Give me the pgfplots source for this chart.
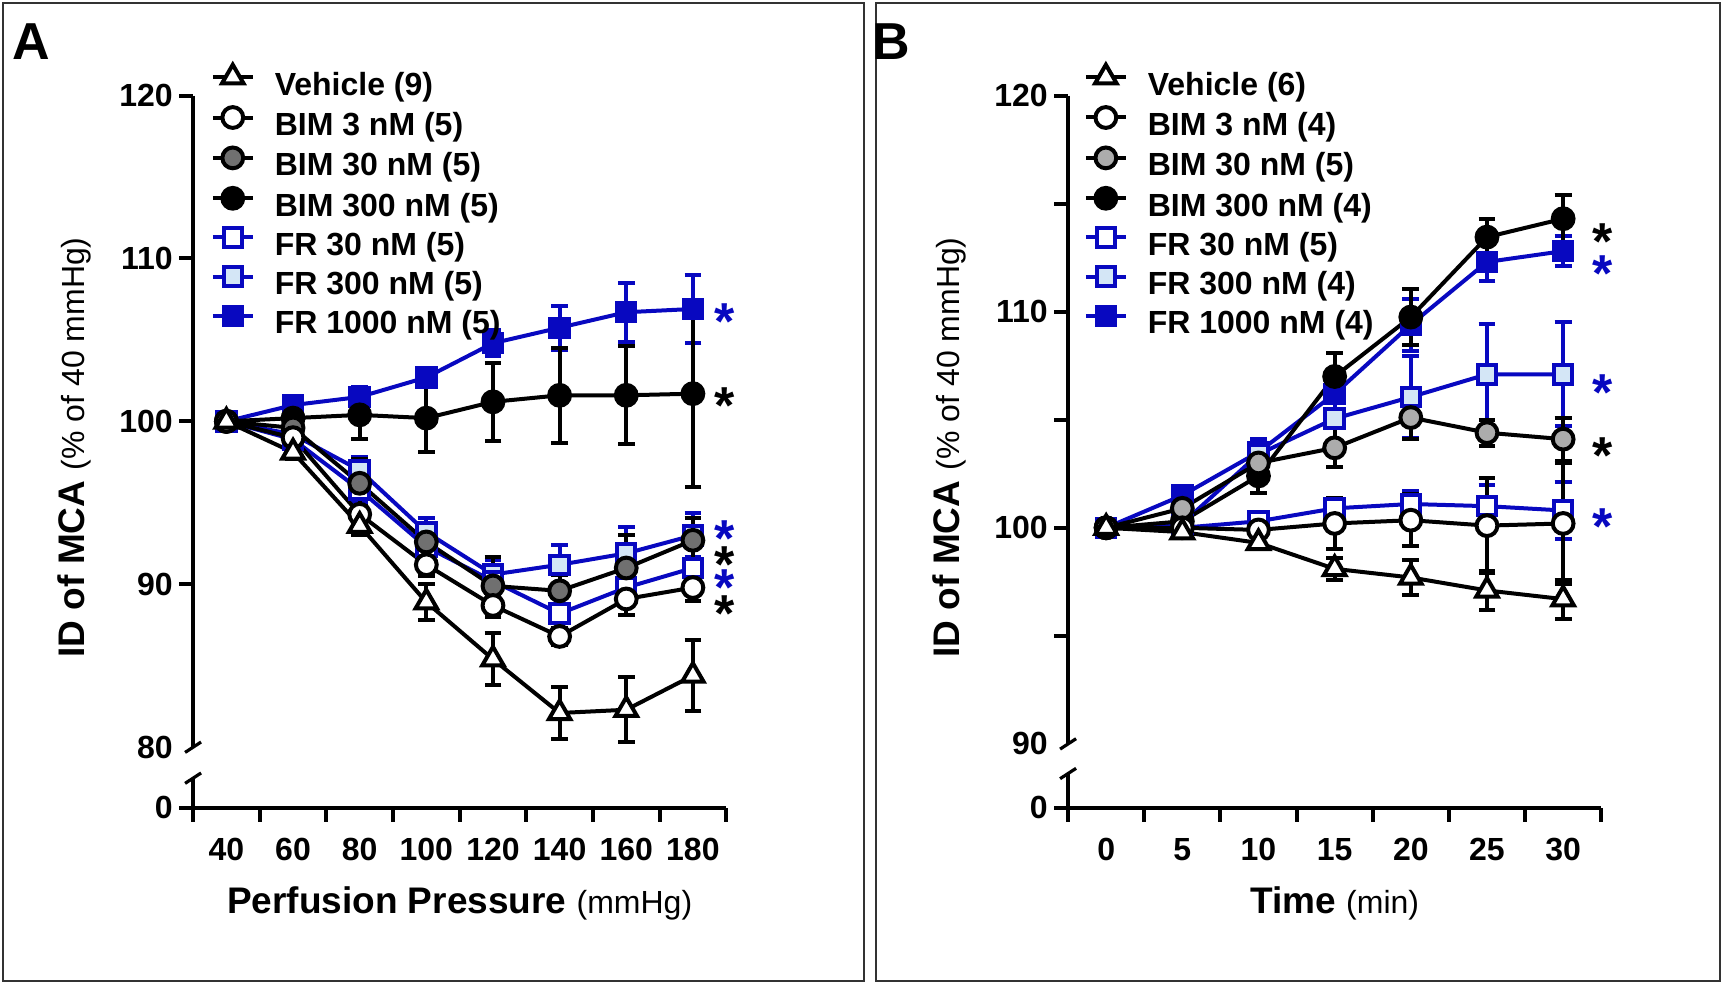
\documentclass[border=0pt]{standalone}
\usepackage{pgfplots}
\pgfplotsset{compat=1.18}
\usepackage{pgfplotstable}
\usepackage{fontspec}
\setmainfont{Liberation Sans}
\definecolor{myblue}{RGB}{8,8,192}
\definecolor{grayA}{RGB}{112,112,112}
\definecolor{grayB}{RGB}{172,172,172}
\definecolor{lightblue}{RGB}{212,230,246}

% ---------------- Panel A data ----------------
\pgfplotstableread{
x y e
40 100.0 0
60 98.1 0.4
80 93.6 0.6
100 88.9 1.1
120 85.4 1.6
140 82.1 1.6
160 82.3 2.0
180 84.4 2.2
}\AVeh
\pgfplotstableread{
x y e
40 100.0 0
60 99.0 0.4
80 94.3 0.5
100 91.2 0.7
120 88.7 0.7
140 86.8 0.5
160 89.1 1.0
180 89.8 0.8
}\AbimA
\pgfplotstableread{
x y e
40 100.0 0
60 99.6 0.4
80 96.2 1.5
100 92.6 1.0
120 89.9 1.8
140 89.6 1.0
160 91.0 2.0
180 92.7 1.4
}\AbimB
\pgfplotstableread{
x y e
40 100.0 0
60 100.2 0.5
80 100.4 1.5
100 100.2 2.1
120 101.2 2.4
140 101.6 2.9
160 101.6 3.0
180 101.7 5.75
}\AbimC
\pgfplotstableread{
x y e
40 100.0 0
60 98.9 0.4
80 95.8 0.8
100 92.3 0.8
120 90.2 0.8
140 88.2 0.6
160 89.8 1.1
180 91.0 0.7
}\AfrA
\pgfplotstableread{
x y e
40 100.0 0
60 99.2 0.4
80 97.0 0.8
100 93.2 0.9
120 90.6 0.9
140 91.2 1.2
160 91.9 1.6
180 93.0 1.4
}\AfrB
\pgfplotstableread{
x y e
40 100.0 0
60 101.0 0.3
80 101.5 0.6
100 102.7 0.4
120 104.8 0.8
140 105.75 1.35
160 106.7 1.8
180 106.9 2.1
}\AfrC

% ---------------- Panel B data ----------------
\pgfplotstableread{
x y e
0 100.0 0
5 99.8 0.2
10 99.3 0.3
15 98.1 0.5
20 97.7 0.8
25 97.1 0.9
30 96.7 0.9
}\BVeh
\pgfplotstableread{
x y e
0 100.0 0
5 100.0 0.2
10 99.9 0.7
15 100.2 1.2
20 100.35 1.2
25 100.1 2.2
30 100.2 2.8
}\BbimA
\pgfplotstableread{
x y e
0 100.0 0
5 100.9 0.4
10 103.0 0.9
15 103.7 0.9
20 105.1 1.0
25 104.4 0.6
30 104.1 1.0
}\BbimB
\pgfplotstableread{
x y e
0 100.0 0
5 100.3 0.3
10 102.4 0.8
15 107.0 1.1
20 109.75 1.3
25 113.45 0.85
30 114.3 1.1
}\BbimC
\pgfplotstableread{
x y e
0 100.0 0
5 100.0 0.2
10 100.3 0.4
15 100.9 0.5
20 101.1 0.6
25 101.0 1.0
30 100.8 1.3
}\BfrA
\pgfplotstableread{
x y e
0 100.0 0
5 100.2 0.3
10 103.4 0.6
15 105.05 1.2
20 106.05 1.9
25 107.1 2.35
30 107.1 2.4
}\BfrB
\pgfplotstableread{
x y e
0 100.0 0
5 101.5 0.4
10 103.5 0.6
15 106.2 0.9
20 109.4 1.2
25 112.3 0.9
30 112.8 0.7
}\BfrC

\pgfplotsset{
  mystyle/.style={
    scale only axis, width=266.6pt, height=356.1pt,
    axis lines*=left, axis line style={-, line width=2pt},
    y axis line style={draw=none},
    tick align=outside, major tick length=0pt, minor tick length=7pt,
    tick style={line width=2pt, black},
    tick label style={font=\bfseries\fontsize{16}{18}\selectfont, inner sep=0pt},
    xticklabel style={anchor=north, yshift=-15.2pt},
    yticklabel style={anchor=east, xshift=-10pt},
    clip=false,
    legend cell align=left,
    reverse legend,
    legend image code/.code={\draw[mark repeat=2,mark phase=2,#1] plot coordinates {(0pt,5.7pt) (10pt,5.7pt) (20pt,5.7pt)};},
    legend style={draw=none, fill=none, anchor=north west, inner sep=0pt, outer sep=0pt,
      row sep=0pt, column sep=10pt, font=\bfseries\fontsize{16}{18}\selectfont,
      nodes={inner sep=0pt, text height=12.6pt, text depth=6pt}},
    every axis x label/.style={at={(axis description cs:0.5,0)}, anchor=center, yshift=-47.8pt},
    every axis y label/.style={at={(axis description cs:-0.222,0.506)}, anchor=center, rotate=90},
  },
  ebar/.style={error bars/.cd, y dir=both, y explicit,
    error bar style={line width=2pt, #1},
    error mark options={rotate=90, mark size=4.2pt, line width=2pt, #1}},
  sVeh/.style={black, line width=2pt, mark=triangle*, mark size=6.2pt,
    mark options={solid, fill=white, draw=black, line width=2pt}, ebar=black},
  sBimA/.style={black, line width=2pt, mark=*, mark size=5.2pt,
    mark options={solid, fill=white, draw=black, line width=2pt}, ebar=black},
  sBimB/.style={black, line width=2pt, mark=*, mark size=5.2pt,
    mark options={solid, fill=#1, draw=black, line width=2pt}, ebar=black},
  sBimC/.style={black, line width=2pt, mark=*, mark size=5.2pt,
    mark options={solid, fill=black, draw=black, line width=2pt}, ebar=black},
  sFrA/.style={myblue, line width=2pt, mark=square*, mark size=4.6pt,
    mark options={solid, fill=white, draw=myblue, line width=2pt}, ebar=myblue},
  sFrB/.style={myblue, line width=2pt, mark=square*, mark size=4.6pt,
    mark options={solid, fill=lightblue, draw=myblue, line width=2pt}, ebar=myblue},
  sFrC/.style={myblue, line width=2pt, mark=square*, mark size=4.6pt,
    mark options={solid, fill=myblue, draw=myblue, line width=2pt}, ebar=myblue},
}
\tikzset{ast/.style={font=\bfseries\fontsize{26}{26}\selectfont, anchor=base, yshift=-15pt, inner sep=0pt}}

\begin{document}
\begin{tikzpicture}
\path[use as bounding box] (0,0) rectangle (861.6pt,492.35pt);
\draw[line width=1.2pt, black!80] (1.65pt,1.65pt) rectangle (431.9pt,490.7pt);
\draw[line width=1.2pt, black!80] (437.95pt,1.65pt) rectangle (860pt,490.7pt);
\node[font=\bfseries\fontsize{26}{26}\selectfont] at (15.4pt,471.7pt) {A};
\node[font=\bfseries\fontsize{26}{26}\selectfont] at (445.9pt,471.7pt) {B};

% ================= Panel A =================
\begin{axis}[mystyle, at={(96.55pt,88.47pt)}, anchor=south west,
  xmin=30, xmax=190, ymin=76.29, ymax=120,
  xtick={40,60,80,100,120,140,160,180},
  xticklabels={40,60,80,100,120,140,160,180},
  minor xtick={30,50,70,90,110,130,150,170,190},
  ytick={76.29,80,90,100,110,120}, yticklabels={0,80,90,100,110,120},
  minor ytick={76.29,90,100,110,120},
  legend style={at={(0.0332,1.0433)}},
  xlabel={\fontsize{18.5}{20}\selectfont\bfseries Perfusion Pressure \mdseries\fontsize{16}{18}\selectfont(mmHg)},
  ylabel={\fontsize{18.5}{20}\selectfont\bfseries ID of MCA \mdseries\fontsize{16}{18}\selectfont(\% of 40 mmHg)},
]
\addplot[sFrC] table[x=x,y=y,y error=e] {\AfrC};
\addlegendentry{FR 1000 nM (5)}
\addplot[sFrB] table[x=x,y=y,y error=e] {\AfrB};
\addlegendentry{FR 300 nM (5)}
\addplot[sFrA] table[x=x,y=y,y error=e] {\AfrA};
\addlegendentry{FR 30 nM (5)}
\addplot[sBimC] table[x=x,y=y,y error=e] {\AbimC};
\addlegendentry{BIM 300 nM (5)}
\addplot[sBimB=grayA] table[x=x,y=y,y error=e] {\AbimB};
\addlegendentry{BIM 30 nM (5)}
\addplot[sBimA] table[x=x,y=y,y error=e] {\AbimA};
\addlegendentry{BIM 3 nM (5)}
\addplot[sVeh] table[x=x,y=y,y error=e] {\AVeh};
\addlegendentry{Vehicle (9)}
% y axis with break
\draw[line width=2pt] (axis cs:30,120) -- (axis cs:30,80);
\draw[line width=2pt] (axis cs:30,78.1) -- (axis cs:30,76.29);
\draw[line width=1.6pt] ([shift={(-4pt,-2.6pt)}]axis cs:30,80) -- ([shift={(4pt,2.6pt)}]axis cs:30,80);
\draw[line width=1.6pt] ([shift={(-4pt,-2.6pt)}]axis cs:30,78.1) -- ([shift={(4pt,2.6pt)}]axis cs:30,78.1);
% asterisks
\node[ast, text=myblue] at (axis cs:189.5,106.85) {*};
\node[ast, text=black] at (axis cs:189.5,101.7) {*};
\node[ast, text=myblue] at (axis cs:189.5,93.54) {*};
\node[ast, text=black] at (axis cs:189.5,91.94) {*};
\node[ast, text=myblue] at (axis cs:189.5,90.51) {*};
\node[ast, text=black] at (axis cs:189.5,88.97) {*};
\end{axis}

% ================= Panel B =================
\begin{axis}[mystyle, at={(534.1pt,88.47pt)}, anchor=south west,
  xmin=-2.5, xmax=32.5, ymin=87.05, ymax=120,
  xtick={0,5,10,15,20,25,30},
  xticklabels={0,5,10,15,20,25,30},
  minor xtick={-2.5,2.5,7.5,12.5,17.5,22.5,27.5,32.5},
  ytick={87.05,90,100,110,120}, yticklabels={0,90,100,110,120},
  minor ytick={87.05,95,100,105,110,115,120},
  legend style={at={(0.0296,1.0433)}},
  xlabel={\fontsize{18.5}{20}\selectfont\bfseries Time \mdseries\fontsize{16}{18}\selectfont(min)},
  ylabel={\fontsize{18.5}{20}\selectfont\bfseries ID of MCA \mdseries\fontsize{16}{18}\selectfont(\% of 40 mmHg)},
]
\addplot[sFrC] table[x=x,y=y,y error=e] {\BfrC};
\addlegendentry{FR 1000 nM (4)}
\addplot[sFrB] table[x=x,y=y,y error=e] {\BfrB};
\addlegendentry{FR 300 nM (4)}
\addplot[sFrA] table[x=x,y=y,y error=e] {\BfrA};
\addlegendentry{FR 30 nM (5)}
\addplot[sBimC] table[x=x,y=y,y error=e] {\BbimC};
\addlegendentry{BIM 300 nM (4)}
\addplot[sBimB=grayB] table[x=x,y=y,y error=e] {\BbimB};
\addlegendentry{BIM 30 nM (5)}
\addplot[sBimA] table[x=x,y=y,y error=e] {\BbimA};
\addlegendentry{BIM 3 nM (4)}
\addplot[sVeh] table[x=x,y=y,y error=e] {\BVeh};
\addlegendentry{Vehicle (6)}
\draw[line width=2pt] (axis cs:-2.5,120) -- (axis cs:-2.5,90);
\draw[line width=2pt] (axis cs:-2.5,88.63) -- (axis cs:-2.5,87.05);
\draw[line width=1.6pt] ([shift={(-4pt,-2.6pt)}]axis cs:-2.5,90) -- ([shift={(4pt,2.6pt)}]axis cs:-2.5,90);
\draw[line width=1.6pt] ([shift={(-4pt,-2.6pt)}]axis cs:-2.5,88.63) -- ([shift={(4pt,2.6pt)}]axis cs:-2.5,88.63);
\node[ast, text=black] at (axis cs:32.6,113.8) {*};
\node[ast, text=myblue] at (axis cs:32.6,112.3) {*};
\node[ast, text=myblue] at (axis cs:32.6,106.8) {*};
\node[ast, text=black] at (axis cs:32.6,103.9) {*};
\node[ast, text=myblue] at (axis cs:32.6,100.6) {*};
\end{axis}
\end{tikzpicture}
\end{document}
